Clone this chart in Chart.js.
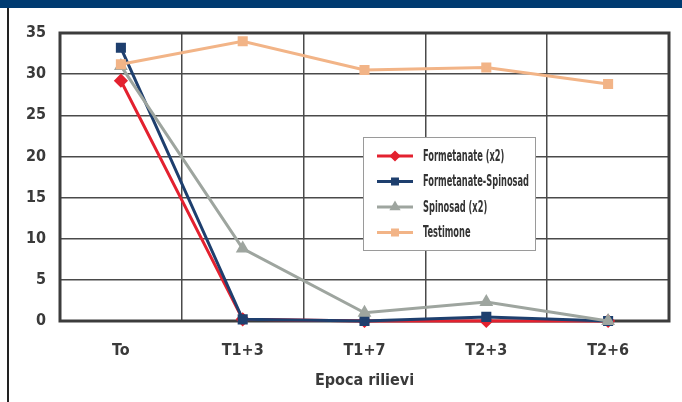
<!DOCTYPE html>
<html>
<head>
<meta charset="utf-8">
<script src="https://cdn.jsdelivr.net/npm/chart.js@4"></script>
<style>
  html, body { margin: 0; padding: 0; background: #fff; }
  #wrap { position: relative; width: 682px; height: 402px; overflow: hidden; }
  #band { position: absolute; left: 0; top: 0; width: 682px; height: 8px; background: #003b71; }
  #edge { position: absolute; left: 7px; top: 8px; width: 2px; height: 394px; background: #222; }
  canvas { position: absolute; left: 0; top: 0; }
</style>
</head>
<body>
<div id="wrap">
  <canvas id="chart" width="682" height="402"></canvas>
  <div id="band"></div>
  <div id="edge"></div>
</div>
<script>
const categories = ['To', 'T1+3', 'T1+7', 'T2+3', 'T2+6'];
const seriesNames = ['Formetanate (x2)', 'Formetanate-Spinosad', 'Spinosad (x2)', 'Testimone'];
const formetanate = [29.2, 0.2, 0, 0, 0];
const formSpinosad = [33.2, 0.2, 0, 0.5, 0];
const spinosad = [31.0, 8.8, 1.0, 2.3, 0];
const testimone = [31.2, 34.0, 30.5, 30.8, 28.8];

const font = "'DejaVu Sans Condensed', 'Liberation Sans Narrow', sans-serif";

// frame round the plot area
const framePlugin = {
    id: 'frame',
    beforeDatasetsDraw(chart) {
        const a = chart.chartArea;
        const ctx = chart.ctx;
        ctx.save();
        ctx.strokeStyle = '#3c3c3c';
        ctx.lineWidth = 3;
        ctx.strokeRect(a.left, a.top, a.right - a.left, a.bottom - a.top);
        ctx.restore();
    }
};

// boxed legend inside the plot, listed in series order (datasets are drawn reversed)
const boxLegend = {
    id: 'boxLegend',
    afterDraw(chart, args, opts) {
        const ctx = chart.ctx;
        ctx.save();
        ctx.fillStyle = '#fff';
        ctx.fillRect(opts.x, opts.y, opts.w, opts.h);
        ctx.strokeStyle = '#9a9a9a';
        ctx.lineWidth = 1;
        ctx.strokeRect(opts.x + 0.5, opts.y + 0.5, opts.w, opts.h);
        ctx.font = 'bold 15px ' + font;
        ctx.textBaseline = 'middle';
        const items = chart.data.datasets.slice().reverse();
        // squeeze all labels by the same factor so the widest fits
        const widest = Math.max(...items.map(d => ctx.measureText(d.label).width));
        const sx = Math.min(1, opts.textWidth / widest);
        items.forEach((ds, i) => {
            const y = opts.y + 19 + i * 25.5;
            const x0 = opts.x + 14;
            ctx.strokeStyle = ds.borderColor;
            ctx.lineWidth = 3;
            ctx.beginPath();
            ctx.moveTo(x0, y);
            ctx.lineTo(x0 + 36, y);
            ctx.stroke();
            ctx.fillStyle = ds.borderColor;
            Chart.helpers.drawPoint(ctx, {
                pointStyle: ds.pointStyle,
                radius: 3.5,
                rotation: 0,
                borderWidth: 1
            }, x0 + 18, y);
            ctx.save();
            ctx.translate(x0 + 46, y + 1);
            ctx.scale(sx, 1);
            ctx.fillStyle = '#333';
            ctx.fillText(ds.label, 0, 0);
            ctx.restore();
        });
        ctx.restore();
    }
};

function series(label, data, color, style) {
    return {
        label: label,
        data: data,
        borderColor: color,
        backgroundColor: color,
        pointBackgroundColor: color,
        pointBorderColor: color,
        pointStyle: style,
        pointRadius: 5,
        pointHoverRadius: 5,
        borderWidth: 3,
        tension: 0,
        clip: false
    };
}

const ctx = document.getElementById('chart');
new Chart(ctx, {
    type: 'line',
    data: {
        labels: categories,
        datasets: [
            series(seriesNames[3], testimone, '#f2b487', 'rect'),
            series(seriesNames[2], spinosad, '#9ea59f', 'triangle'),
            series(seriesNames[1], formSpinosad, '#1e3f6e', 'rect'),
            series(seriesNames[0], formetanate, '#e3212f', 'rectRot')
        ]
    },
    options: {
        responsive: false,
        animation: false,
        layout: { padding: { left: 0, top: 33, right: 13, bottom: 0 } },
        plugins: {
            legend: { display: false },
            tooltip: { enabled: false },
            boxLegend: { x: 363, y: 137, w: 172, h: 113, textWidth: 106 }
        },
        scales: {
            x: {
                offset: true,
                grid: { offset: true, color: '#4a4a4a', lineWidth: 1.5, drawTicks: false },
                border: { display: false },
                ticks: { padding: 20, color: '#3a3a3a', font: { family: font, size: 16, weight: 'bold' } },
                title: {
                    display: true,
                    text: 'Epoca rilievi',
                    color: '#3a3a3a',
                    padding: { top: 0, bottom: 12 },
                    font: { family: font, size: 16, weight: 'bold' }
                },
                afterFit(scale) { scale.height = 81; }
            },
            y: {
                min: 0,
                max: 35,
                ticks: { stepSize: 5, padding: 14, color: '#3a3a3a', font: { family: font, size: 16, weight: 'bold' } },
                grid: { color: '#4a4a4a', lineWidth: 1.5, drawTicks: false },
                border: { display: false },
                afterFit(scale) { scale.width = 60; }
            }
        }
    },
    plugins: [framePlugin, boxLegend]
});
</script>
</body>
</html>
